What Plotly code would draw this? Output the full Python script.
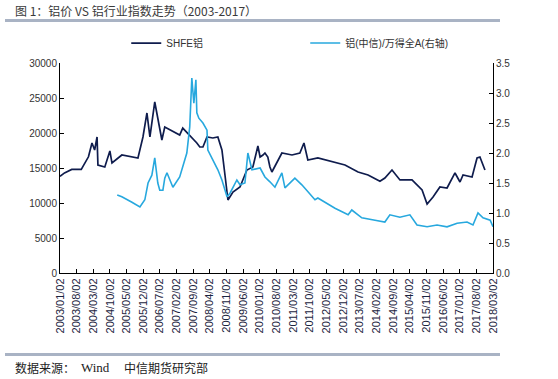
import plotly.graph_objects as go

# SHFE aluminium price (left axis)
shfe_dates = ["2003-01-02","2003-03-01","2003-06-01","2003-10-01","2003-11-01","2004-01-01",
"2004-02-15","2004-03-20","2004-04-20","2004-05-01","2004-07-28","2004-10-01","2004-10-28",
"2005-03-03","2005-09-25","2005-11-28","2006-01-18","2006-02-25","2006-04-28","2006-07-28",
"2006-09-03","2006-10-01","2006-11-06","2007-03-13","2007-04-21","2007-07-19","2007-10-18",
"2007-11-25","2008-01-04","2008-02-25","2008-05-10","2008-07-13","2008-09-03","2008-10-12",
"2008-11-19","2009-01-22","2009-04-22","2009-07-19","2009-10-04","2009-12-07","2010-01-04",
"2010-02-10","2010-03-07","2010-04-13","2010-05-10","2010-06-04","2010-10-10","2011-02-16",
"2011-05-28","2011-07-19","2011-09-07","2012-01-13","2012-08-19","2012-12-25","2013-06-10",
"2013-10-16","2014-03-17","2014-05-19","2014-08-18","2014-11-28","2015-05-01","2015-09-07",
"2015-11-10","2016-01-25","2016-04-22","2016-07-22","2016-11-01","2017-01-04","2017-02-12",
"2017-06-07","2017-08-10","2017-09-16","2017-11-19"]
shfe_values = [13800,14300,14800,14800,15400,16600,
18570,17570,19430,15430,15140,17430,15710,
16860,16430,19430,22860,19430,24430,19000,
20860,20700,20430,19700,20700,19700,18570,
18000,18000,19430,19290,19430,17570,14000,
10430,11570,12290,14710,15140,18140,16570,
16860,17140,16570,15140,14430,17140,16860,
17140,18570,16140,16430,15860,15430,14430,
14000,13100,13570,14710,13290,13290,11860,
9860,10860,12290,12140,14290,13000,14000,
13710,16430,16570,14710]

# Aluminium (CITIC) / Wind All A ratio (right axis)
ratio_dates = ["2005-01-03","2005-03-03","2005-07-10","2005-10-20","2005-12-22","2006-02-01",
"2006-03-22","2006-04-28","2006-06-06","2006-07-01","2006-08-10","2006-09-03","2006-10-01",
"2006-12-16","2007-03-13","2007-04-21","2007-06-12","2007-07-19","2007-08-15","2007-09-10",
"2007-10-06","2007-10-18","2007-11-13","2008-01-04","2008-02-25","2008-03-07","2008-05-10",
"2008-07-13","2008-09-03","2008-11-07","2008-12-15","2009-03-13","2009-04-22","2009-06-24",
"2009-08-01","2009-09-22","2010-01-04","2010-03-07","2010-05-10","2010-07-13","2010-10-10",
"2010-11-18","2011-03-25","2011-06-22","2011-12-07","2012-01-13","2012-08-19","2013-02-03",
"2013-03-22","2013-07-28","2014-01-13","2014-05-19","2014-07-22","2014-11-28","2015-04-04",
"2015-07-04","2015-11-10","2016-03-16","2016-07-22","2016-11-28","2017-04-04","2017-06-19",
"2017-08-22","2017-10-25","2018-01-25","2018-03-02"]
ratio_values = [1.30,1.27,1.18,1.10,1.22,1.50,
1.63,1.92,1.50,1.38,1.38,1.58,1.67,
1.43,1.60,1.77,2.00,2.43,3.25,2.83,
3.22,2.67,2.58,2.50,2.38,2.05,1.88,
1.72,1.55,1.27,1.33,1.55,1.47,1.50,
2.00,1.72,1.75,1.60,1.52,1.43,1.67,
1.42,1.58,1.47,1.22,1.25,1.08,0.97,
1.05,0.92,0.88,0.85,0.97,0.93,0.97,
0.80,0.77,0.80,0.77,0.83,0.85,0.80,
1.00,0.92,0.88,0.77]

series_names = ["SHFE铝", "铝(中信)/万得全A(右轴)"]
title_text = "图 1：铝价 VS 铝行业指数走势（2003-2017）"

fig = go.Figure()
fig.add_trace(go.Scatter(x=shfe_dates, y=shfe_values, name=series_names[0], mode="lines",
                         line=dict(color="#0f1c4d", width=1.7)))
fig.add_trace(go.Scatter(x=ratio_dates, y=ratio_values, name=series_names[1], mode="lines",
                         line=dict(color="#27a8de", width=1.6), yaxis="y2"))

tickfont = dict(family="Liberation Sans, Arial, sans-serif", size=10, color="#333333")
fig.update_layout(
    width=558, height=379,
    margin=dict(l=60, r=65, t=63, b=106),
    paper_bgcolor="white", plot_bgcolor="white",
    showlegend=True,
    legend=dict(orientation="h", x=0.153, y=1.095, xanchor="left", yanchor="middle",
                font=dict(family="Liberation Sans, Noto Sans CJK SC", size=10, color="#333333"),
                entrywidth=134, entrywidthmode="pixels", itemwidth=30,
                bgcolor="rgba(0,0,0,0)"),
    xaxis=dict(type="date", range=["2003-01-02", "2018-03-02"], tick0="2003-01-02", dtick="M7",
               tickformat="%Y/%m/%d", tickangle=-90, showgrid=False, zeroline=False,
               showline=True, linecolor="#000000", linewidth=1, ticks="inside", ticklen=4,
               tickcolor="#000000",
               tickfont=dict(family="Liberation Sans, Arial, sans-serif", size=11, color="#1b2440")),
    yaxis=dict(range=[0, 30000], dtick=5000, tickformat="d", showgrid=False, zeroline=False,
               showline=True, linecolor="#000000", linewidth=1, ticks="inside", ticklen=4,
               tickcolor="#000000", tickfont=tickfont),
    yaxis2=dict(range=[0, 3.5], dtick=0.5, tickformat=".1f", overlaying="y", side="right",
                showgrid=False, zeroline=False, showline=True, linecolor="#000000", linewidth=1,
                ticks="inside", ticklen=4, tickcolor="#000000", tickfont=tickfont),
)

# page-pixel helpers (plot area spans x 60..493, y 63..273)
def px_x(px):
    return (px - 60) / 433.0
def px_y(py):
    return (273 - py) / 210.0

fig.update_layout(shapes=[
    dict(type="rect", xref="paper", yref="paper", x0=px_x(5), x1=px_x(500),
         y0=px_y(22), y1=px_y(19), line=dict(width=0), fillcolor="#a9b3c4", layer="above"),
    dict(type="rect", xref="paper", yref="paper", x0=px_x(5), x1=px_x(500),
         y0=px_y(356), y1=px_y(353), line=dict(width=0), fillcolor="#a9b3c4", layer="above"),
])

fig.add_annotation(text=title_text, xref="paper", yref="paper", x=px_x(13), y=px_y(10),
                   xanchor="left", yanchor="middle", showarrow=False,
                   font=dict(family="Noto Sans CJK SC, sans-serif", size=12, color="#3a3a3a"))
fig.add_annotation(text="数据来源：", xref="paper", yref="paper", x=px_x(13), y=px_y(367),
                   xanchor="left", yanchor="middle", showarrow=False,
                   font=dict(family="Noto Sans CJK SC, sans-serif", size=12, color="#222222"))
fig.add_annotation(text="Wind", xref="paper", yref="paper", x=px_x(79), y=px_y(367),
                   xanchor="left", yanchor="middle", showarrow=False,
                   font=dict(family="Liberation Serif, serif", size=13, color="#222222"))
fig.add_annotation(text="中信期货研究部", xref="paper", yref="paper", x=px_x(122), y=px_y(367),
                   xanchor="left", yanchor="middle", showarrow=False,
                   font=dict(family="Noto Sans CJK SC, sans-serif", size=12, color="#222222"))

fig.write_html("out.html", config={"displayModeBar": False},
               post_script="document.body.style.margin='0';")
